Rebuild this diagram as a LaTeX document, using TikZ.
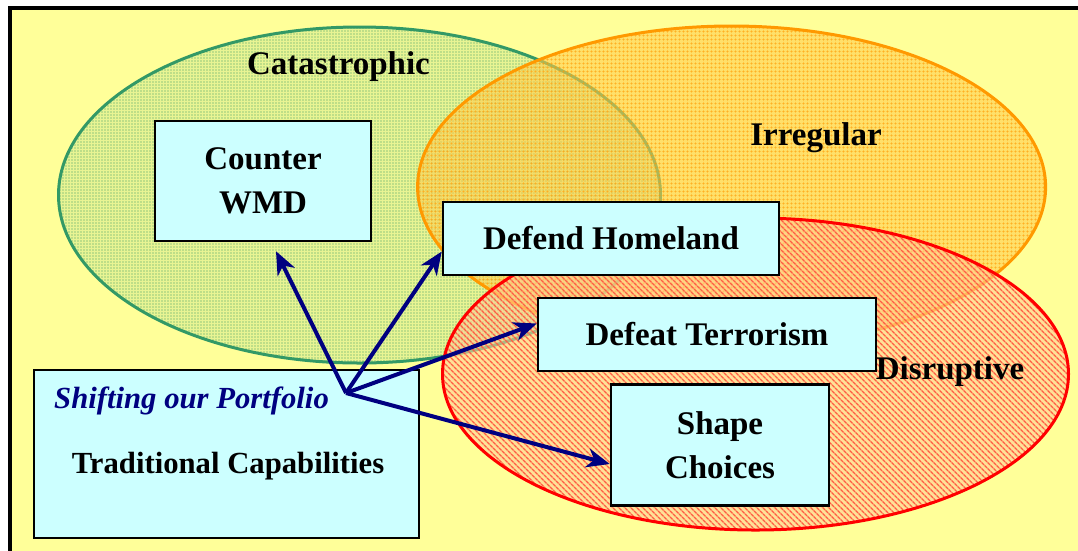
\documentclass[tikz,border=0pt]{standalone}
\usepackage{fontspec}
\usepackage{xcolor}
\usepackage{tikz}
\usetikzlibrary{calc,positioning,patterns.meta,arrows.meta}
\setmainfont{Liberation Serif}
\definecolor{paleyellow}{RGB}{255,255,153}
\definecolor{boxcyan}{RGB}{204,255,255}
\definecolor{catgreen}{RGB}{51,153,102}
\definecolor{irrorange}{RGB}{255,153,0}
\definecolor{disred}{RGB}{255,0,0}
\definecolor{portnavy}{RGB}{0,0,128}
\definecolor{salmon}{RGB}{255,205,150}

\begin{document}
\begin{tikzpicture}[x=1pt,y=-1pt,
  lbl/.style={font=\fontsize{33}{44}\selectfont\bfseries,align=center,inner sep=0pt},
  box/.style={lbl,draw=black,line width=2.5pt,fill=boxcyan},
  portarrow/.style={draw=portnavy,line width=4pt,-{Stealth[length=23pt,width=19pt,inset=7pt]}}]
\newcommand{\drawzone}[7]{\fill[#4,fill opacity=0.6] #1 ellipse [x radius=#2,y radius=#3]; \fill[pattern={#7},pattern color=#6] #1 ellipse [x radius=#2,y radius=#3]; \draw[#5,line width=3pt] #1 ellipse [x radius=#2,y radius=#3];}
\useasboundingbox (0,0) rectangle (1078,550);
\fill[white] (0,0) rectangle (1078,550);
\draw[line width=3.5pt,fill=paleyellow] (10,8) rectangle (1092,564);

\drawzone{(359.5,195)}{301}{168}{catgreen!18!paleyellow}{catgreen}{catgreen}{Dots[distance=3pt,radius=0.55pt]}
\drawzone{(731.6,187)}{314}{161}{irrorange!50!paleyellow}{irrorange}{irrorange}{Hatch[angle=0,distance=4pt,line width=0.3pt]}
\drawzone{(755.5,374)}{313}{156}{salmon}{disred}{disred!55!salmon}{Lines[angle=-45,distance=4pt,line width=1.4pt]}

\node[lbl] (cata) at (338.5,67) {Catastrophic};
\node[lbl] (irr) at (816,138) {Irregular};

\node[box,minimum width=216pt,minimum height=120pt] (wmd) at (263,181) {Counter\\WMD};
\node[box,minimum width=336pt,minimum height=73pt] (home) at (611,238.5) {Defend Homeland};
\node[box,minimum width=338pt,minimum height=73pt] (terr) at (707,334.5) {Defeat Terrorism};
\node[box,minimum width=218pt,minimum height=121pt] (shape) at (720,445) {Shape\\Choices};
\node[lbl] (disr) at (950,372) {Disruptive};

\node[box,minimum width=385pt,minimum height=168pt] (trad) at (226.5,454) {};
\node[lbl,font=\fontsize{30.7}{36}\selectfont\bfseries\itshape,text=portnavy,anchor=west] (port) at (54,401) {Shifting our Portfolio};
\node[lbl,font=\fontsize{30.7}{36}\selectfont\bfseries] (tradlbl) at (228,466) {Traditional Capabilities};

\coordinate (hub) at (346,393);
\draw[portarrow] (hub) -- ($(wmd.south)+(13,9)$);
\draw[portarrow] (hub) -- ($(home.west)+(0,13)$);
\draw[portarrow] (hub) -- ($(terr.west)+(0,-11)$);
\draw[portarrow] (hub) -- ($(shape.west)+(0,19)$);
\end{tikzpicture}
\end{document}
